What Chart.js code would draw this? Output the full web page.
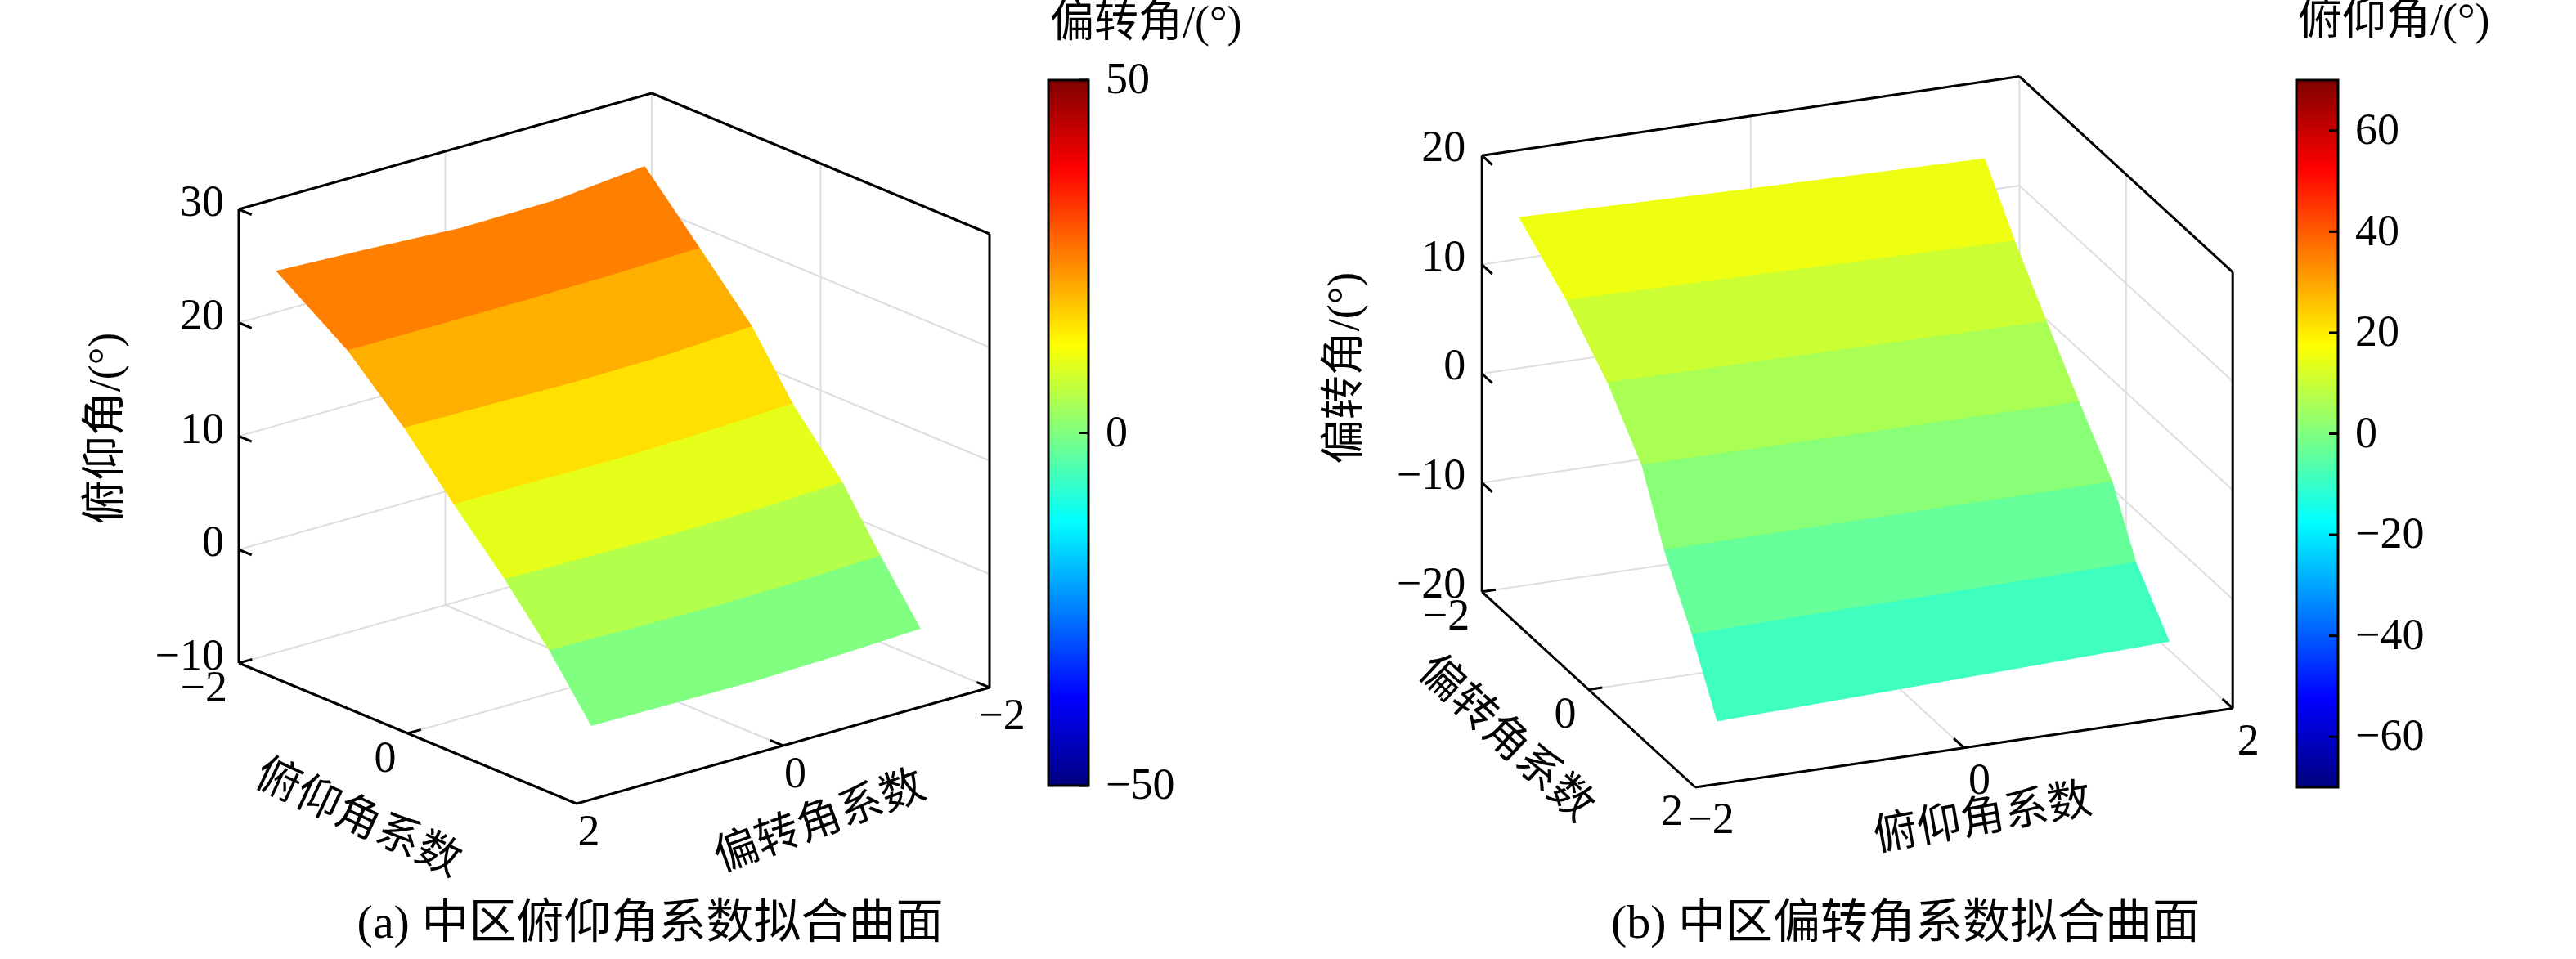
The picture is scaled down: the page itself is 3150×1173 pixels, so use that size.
<!DOCTYPE html>
<html>
<head>
<meta charset="utf-8">
<script src="https://cdn.jsdelivr.net/npm/chart.js@4.4.1/dist/chart.umd.min.js"></script>
<style>
html,body{margin:0;padding:0;background:#ffffff;}
#wrap{width:3150px;height:1173px;}
canvas{display:block;}
</style>
</head>
<body>
<div id="wrap"><canvas id="chart" width="3150" height="1173"></canvas></div>
<script>
// ================= DATA =================
// Panel (a) 中区俯仰角系数拟合曲面: mesh rows at fixed 俯仰角系数, columns along 偏转角系数
const pitchCoefRowsA = [-2.00, -1.35, -0.73, -0.25, 0.34, 0.79, 1.26];
const deflCoefColsA = [
  [-1.93, -1.04, -0.15, 0.74, 1.63],
  [-1.93, -1.08, -0.23, 0.62, 1.47],
  [-1.93, -1.09, -0.25, 0.59, 1.43],
  [-1.93, -1.11, -0.30, 0.52, 1.34],
  [-1.93, -1.12, -0.30, 0.52, 1.33],
  [-1.93, -1.13, -0.33, 0.47, 1.27],
  [-1.93, -1.14, -0.34, 0.46, 1.25]
];
const pitchAngleA = [
  [23.7, 22.9, 22.8, 23.25, 23.6],
  [18.5, 18.3, 18.2, 18.2, 18.2],
  [13.5, 13.1, 13.0, 13.1, 13.2],
  [8.2, 7.85, 7.65, 7.7, 7.7],
  [3.1, 2.8, 2.7, 2.8, 2.9],
  [-2.0, -2.25, -2.35, -2.25, -2.1],
  [-6.9, -7.2, -7.4, -7.35, -7.3]
];
const bandValueA = [25.0, 20.3, 15.5, 10.0, 5.0, 0.0];
const zTicksA = [-10, 0, 10, 20, 30];
const pitchTicksA = [-2, 0, 2];
const pitchTickLabelsA = ['−2', '0', ''];
const deflTicksA = [-2, 0, 2];
const deflTickLabelsA = ['−2', '0', '2'];
const colorTicksA = [-50, 0, 50];

// Panel (b) 中区偏转角系数拟合曲面: mesh rows at fixed 偏转角系数, columns along 俯仰角系数
const deflCoefRowsB = [-2.00, -1.11, -0.34, 0.30, 0.72, 1.24, 1.71];
const pitchCoefColsB = [
  [-1.72, 0.01, 1.74],
  [-1.72, -0.05, 1.61],
  [-1.72, -0.09, 1.54],
  [-1.72, -0.10, 1.53],
  [-1.72, -0.05, 1.61],
  [-1.72, -0.07, 1.58],
  [-1.72, -0.04, 1.64]
];
const deflAngleB = [
  [13.8, 13.3, 12.9],
  [10.2, 9.9, 9.6],
  [6.1, 5.95, 5.8],
  [1.4, 1.35, 1.3],
  [-4.5, -4.4, -4.3],
  [-9.9, -9.6, -9.3],
  [-15.7, -15.1, -14.5]
];
const bandValueB = [15.1, 10.5, 5.8, 1.2, -3.5, -8.8];
const zTicksB = [-20, -10, 0, 10, 20];
const deflTicksB = [-2, 0, 2];
const deflTickLabelsB = ['−2', '0', '2'];
const pitchTicksB = [-2, 0, 2];
const pitchTickLabelsB = ['−2', '0', '2'];
const colorTicksB = [-60, -40, -20, 0, 20, 40, 60];

// ================= LAYOUT / VIEW =================
const W = 3150, H = 1173;
const FONT = '"Liberation Serif", "Times New Roman", "Noto Sans CJK SC", serif';

const panels = [
  {
    uMin: -2, uMax: 2, vNear: 2, vFar: -2, zMin: -10, zMax: 30,
    origin: [292, 811], eu: [103.25, 43], ev: [-126.25, 35.5], ez: [0, -13.875],
    rows: pitchCoefRowsA, cols: deflCoefColsA, z: pitchAngleA, bands: bandValueA,
    zTicks: zTicksA, uTicks: pitchTicksA, uLabels: pitchTickLabelsA,
    vTicks: deflTicksA, vLabels: deflTickLabelsA,
    zLabelOff: [-18, -6], uLabelOff: [-14, 33], uAlign: 'right', vLabelOff: [15, 37], vAlign: 'center',
    cRange: [-50, 50], cTicks: colorTicksA, cbar: {left: 1282, right: 1331, top: 98, bottom: 961},
    cbTitle: '偏转角/(°)', cbTitlePos: [1284, 31],
    zTitle: '俯仰角/(°)', zTitlePos: [132, 524],
    uTitle: '俯仰角系数', uTitlePos: [437, 1003], uTitleRot: 25,
    vTitle: '偏转角系数', vTitlePos: [1003, 1007], vTitleRot: -20,
    caption: '(a) 中区俯仰角系数拟合曲面', captionPos: [795, 1132]
  },
  {
    uMin: -2, uMax: 2, vNear: -2, vFar: 2, zMin: -20, zMax: 20,
    origin: [1812.2, 723.8], eu: [65.2, 59.8], ev: [164.3, -24.15], ez: [0, -13.34],
    rows: deflCoefRowsB, cols: pitchCoefColsB, z: deflAngleB, bands: bandValueB,
    zTicks: zTicksB, uTicks: deflTicksB, uLabels: deflTickLabelsB,
    vTicks: pitchTicksB, vLabels: pitchTickLabelsB,
    zLabelOff: [-20, -7], uLabelOff: [-15, 32], uAlign: 'right', vLabelOff: [19, 42], vAlign: 'center',
    cRange: [-70, 70], cTicks: colorTicksB, cbar: {left: 2808, right: 2859, top: 98, bottom: 963},
    cbTitle: '俯仰角/(°)', cbTitlePos: [2810, 28],
    zTitle: '偏转角/(°)', zTitlePos: [1647, 450],
    uTitle: '偏转角系数', uTitlePos: [1840, 905], uTitleRot: 43,
    vTitle: '俯仰角系数', vTitlePos: [2425, 1003], vTitleRot: -10,
    caption: '(b) 中区偏转角系数拟合曲面', captionPos: [2330, 1132]
  }
];

function clamp01(v) { return Math.max(0, Math.min(1, v)); }
function jet(t) {
  const r = clamp01(Math.min(4 * t - 1.5, -4 * t + 4.5));
  const g = clamp01(Math.min(4 * t - 0.5, -4 * t + 3.5));
  const b = clamp01(Math.min(4 * t + 0.5, -4 * t + 2.5));
  return 'rgb(' + Math.round(r * 255) + ',' + Math.round(g * 255) + ',' + Math.round(b * 255) + ')';
}
function proj(P, u, v, z) {
  return {
    x: P.origin[0] + (u - P.uMin) * P.eu[0] + (v - P.vNear) * P.ev[0] + (z - P.zMin) * P.ez[0],
    y: P.origin[1] + (u - P.uMin) * P.eu[1] + (v - P.vNear) * P.ev[1] + (z - P.zMin) * P.ez[1]
  };
}
function unit(v) { const l = Math.hypot(v[0], v[1]); return [v[0] / l, v[1] / l]; }

// ================= BUILD DATASETS (back to front) =================
const layers = [];
function lineLayer(segs, color, width) {
  const data = [];
  segs.forEach(s => { data.push(s[0], s[1], {x: 0, y: null}); });
  return {data, borderColor: color, borderWidth: width, pointRadius: 0, fill: false,
          spanGaps: false, tension: 0, borderCapStyle: 'butt'};
}

panels.forEach(P => {
  const g = [];
  P.zTicks.forEach(z => {
    g.push([proj(P, P.uMin, P.vNear, z), proj(P, P.uMin, P.vFar, z)]);
    g.push([proj(P, P.uMin, P.vFar, z), proj(P, P.uMax, P.vFar, z)]);
  });
  P.uTicks.forEach(u => {
    g.push([proj(P, u, P.vNear, P.zMin), proj(P, u, P.vFar, P.zMin)]);
    g.push([proj(P, u, P.vFar, P.zMin), proj(P, u, P.vFar, P.zMax)]);
  });
  P.vTicks.forEach(v => {
    g.push([proj(P, P.uMin, v, P.zMin), proj(P, P.uMax, v, P.zMin)]);
    g.push([proj(P, P.uMin, v, P.zMin), proj(P, P.uMin, v, P.zMax)]);
  });
  layers.push(lineLayer(g, '#dedede', 2));
});

panels.forEach(P => {
  for (let i = 0; i < P.rows.length - 1; i++) {
    const pts = [];
    const n = P.cols[i].length;
    for (let j = 0; j < n; j++) pts.push(proj(P, P.rows[i], P.cols[i][j], P.z[i][j]));
    for (let j = n - 1; j >= 0; j--) pts.push(proj(P, P.rows[i + 1], P.cols[i + 1][j], P.z[i + 1][j]));
    pts.push(pts[0]);
    const col = jet((P.bands[i] - P.cRange[0]) / (P.cRange[1] - P.cRange[0]));
    layers.push({data: pts, fill: 'shape', backgroundColor: col, borderColor: col, borderWidth: 1.5,
                 pointRadius: 0, tension: 0, spanGaps: false, borderJoinStyle: 'round'});
  }
});

panels.forEach(P => {
  const b = [];
  const L0 = proj(P, P.uMin, P.vNear, P.zMin), L1 = proj(P, P.uMin, P.vNear, P.zMax);
  const F0 = proj(P, P.uMax, P.vNear, P.zMin);
  const R0 = proj(P, P.uMax, P.vFar, P.zMin), R1 = proj(P, P.uMax, P.vFar, P.zMax);
  const B1 = proj(P, P.uMin, P.vFar, P.zMax);
  b.push([L0, L1], [L0, F0], [F0, R0], [R0, R1], [L1, B1], [B1, R1]);
  const tl = 17;
  const du = unit(P.eu);
  const sgn = Math.sign(P.vFar - P.vNear);
  const dv = unit([P.ev[0] * sgn, P.ev[1] * sgn]);
  P.zTicks.forEach(z => {
    const a = proj(P, P.uMin, P.vNear, z);
    b.push([a, {x: a.x + du[0] * tl, y: a.y + du[1] * tl}]);
  });
  P.uTicks.forEach(u => {
    const a = proj(P, u, P.vNear, P.zMin);
    b.push([a, {x: a.x + dv[0] * tl, y: a.y + dv[1] * tl}]);
  });
  P.vTicks.forEach(v => {
    const a = proj(P, P.uMax, v, P.zMin);
    b.push([a, {x: a.x - du[0] * tl, y: a.y - du[1] * tl}]);
  });
  layers.push(lineLayer(b, '#000000', 3));
});

const datasets = layers.slice().reverse();

// ================= TEXT / COLORBAR PLUGIN =================
const annotate = {
  id: 'annotate',
  afterDatasetsDraw(chart) {
    const ctx = chart.ctx, xs = chart.scales.x, ys = chart.scales.y;
    const px = v => xs.getPixelForValue(v), py = v => ys.getPixelForValue(v);
    function text(str, x, y, size, align, rot) {
      ctx.save();
      ctx.translate(px(x), py(y));
      if (rot) ctx.rotate(rot * Math.PI / 180);
      ctx.font = size + 'px ' + FONT;
      ctx.fillStyle = '#000';
      ctx.textAlign = align;
      ctx.textBaseline = 'middle';
      ctx.fillText(str, 0, 0);
      ctx.restore();
    }
    const fmt = v => String(v).replace('-', '−');
    panels.forEach(P => {
      P.zTicks.forEach(z => {
        const a = proj(P, P.uMin, P.vNear, z);
        text(fmt(z), a.x + P.zLabelOff[0], a.y + P.zLabelOff[1], 54, 'right');
      });
      P.uTicks.forEach((u, k) => {
        const a = proj(P, u, P.vNear, P.zMin);
        if (P.uLabels[k]) text(P.uLabels[k], a.x + P.uLabelOff[0], a.y + P.uLabelOff[1], 54, P.uAlign);
      });
      P.vTicks.forEach((v, k) => {
        const a = proj(P, P.uMax, v, P.zMin);
        if (P.vLabels[k]) text(P.vLabels[k], a.x + P.vLabelOff[0], a.y + P.vLabelOff[1], 54, P.vAlign);
      });
      text(P.zTitle, P.zTitlePos[0], P.zTitlePos[1], 54, 'center', -90);
      text(P.uTitle, P.uTitlePos[0], P.uTitlePos[1], 54, 'center', P.uTitleRot);
      text(P.vTitle, P.vTitlePos[0], P.vTitlePos[1], 54, 'center', P.vTitleRot);
      text(P.caption, P.captionPos[0], P.captionPos[1], 58, 'center', 0);
      const c = P.cbar;
      const x0 = px(c.left), x1 = px(c.right), y0 = py(c.top), y1 = py(c.bottom);
      const grad = ctx.createLinearGradient(0, y1, 0, y0);
      for (let k = 0; k <= 64; k++) grad.addColorStop(k / 64, jet(k / 64));
      ctx.save();
      ctx.fillStyle = grad;
      ctx.fillRect(x0, y0, x1 - x0, y1 - y0);
      ctx.strokeStyle = '#000';
      ctx.lineWidth = 3;
      ctx.strokeRect(x0, y0, x1 - x0, y1 - y0);
      P.cTicks.forEach(t => {
        const yy = y1 + (y0 - y1) * (t - P.cRange[0]) / (P.cRange[1] - P.cRange[0]);
        ctx.beginPath();
        ctx.moveTo(x1, yy);
        ctx.lineTo(x1 - 11, yy);
        ctx.stroke();
      });
      ctx.restore();
      P.cTicks.forEach(t => {
        const yv = c.bottom + (c.top - c.bottom) * (t - P.cRange[0]) / (P.cRange[1] - P.cRange[0]);
        text(fmt(t), c.right + 21, yv + 2, 54, 'left');
      });
      text(P.cbTitle, P.cbTitlePos[0], P.cbTitlePos[1], 54, 'left', 0);
    });
  }
};

new Chart(document.getElementById('chart'), {
  type: 'line',
  data: {datasets},
  options: {
    responsive: false,
    animation: false,
    devicePixelRatio: 1,
    events: [],
    layout: {padding: 0},
    scales: {
      x: {type: 'linear', min: 0, max: W, display: false},
      y: {type: 'linear', min: 0, max: H, reverse: true, display: false}
    },
    plugins: {legend: {display: false}, tooltip: {enabled: false}, title: {display: false}}
  },
  plugins: [annotate]
});
</script>
</body>
</html>
